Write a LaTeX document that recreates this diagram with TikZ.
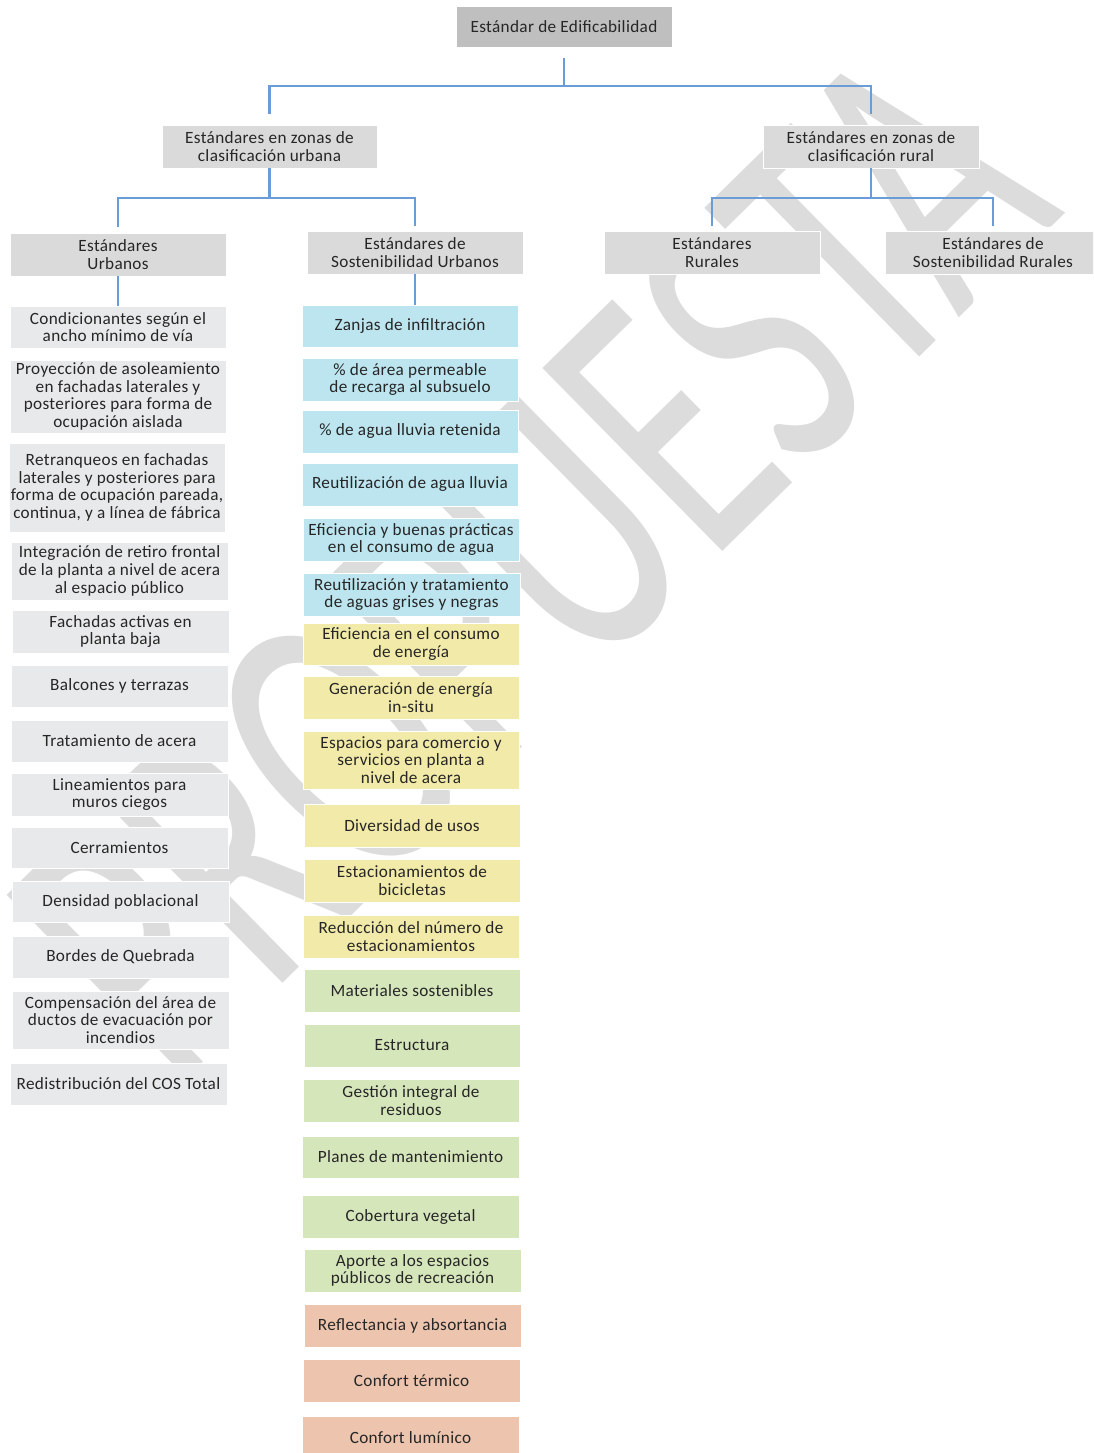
\documentclass[tikz,border=0pt]{standalone}
\usepackage{fontspec}
\setmainfont{Carlito}[LetterSpace=2.0]
\newfontfamily\wmfont{Carlito}
\usetikzlibrary{calc}
\definecolor{txt}{HTML}{262626}
\definecolor{lineblue}{HTML}{6A9DD8}
\definecolor{topgray}{HTML}{BFBFBF}
\definecolor{midgray}{HTML}{DADADA}
\definecolor{ltgray}{HTML}{E8E9EA}
\definecolor{cblue}{HTML}{BDE5EF}
\definecolor{cyellow}{HTML}{F2EAA8}
\definecolor{cgreen}{HTML}{D6E6BB}
\definecolor{csalmon}{HTML}{EDC5AE}
\definecolor{wmgray}{HTML}{DCDCDC}
\newcommand{\mkbox}[7]{\node[box,#2,minimum width={(#5-#3)*0.75pt},minimum height={(#6-#4)*0.75pt}] (#1) at ({(#3+#5)/2},{(#4+#6)/2}) {#7};}
\begin{document}
\begin{tikzpicture}[x=0.75pt,y=-0.75pt,
  box/.style={rectangle, inner sep=0pt, align=center, text=txt, draw=white, line width=0.6pt,
    font=\fontsize{12.9pt}{13.2pt}\selectfont},
  topbox/.style={fill=topgray},
  midbox/.style={fill=midgray},
  ltbox/.style={fill=ltgray},
  bluebox/.style={fill=cblue},
  yelbox/.style={fill=cyellow},
  grnbox/.style={fill=cgreen},
  salbox/.style={fill=csalmon},
  conn/.style={draw=lineblue, line width=1.6pt},
  wm/.style={anchor=base, inner sep=0pt, rotate=44.5, xscale=0.654, text=wmgray,
    font=\wmfont\fontsize{300pt}{300pt}\selectfont}]
\useasboundingbox (0,0) rectangle (1093,1453);
\clip (0,0) rectangle (1093,1453);
\fill[white] (0,0) rectangle (1093,1453);
% watermark
\node[wm] (wmark) at (620,652) {PROPUESTA};
% hierarchy
\mkbox{top}{topbox}{456}{6}{672}{47}{Estándar de Edificabilidad}
\mkbox{l2a}{midbox}{162}{125}{377}{168}{Estándares en zonas de\\clasificación urbana}
\mkbox{l2b}{midbox}{763}{125}{979}{168}{Estándares en zonas de\\clasificación rural}
\mkbox{l3a}{midbox}{10}{233}{226}{276}{Estándares\\Urbanos}
\mkbox{l3b}{midbox}{307}{231}{523}{274}{Estándares de\\Sostenibilidad Urbanos}
\mkbox{l3c}{midbox}{604}{231}{820}{274}{Estándares\\Rurales}
\mkbox{l3d}{midbox}{885}{231}{1101}{274}{Estándares de\\Sostenibilidad Rurales}
% left column
\mkbox{u1}{ltbox}{10}{306}{226}{348}{Condicionantes según el\\ancho mínimo de vía}
\mkbox{u2}{ltbox}{10}{360}{226}{433}{Proyección de asoleamiento\\en fachadas laterales y\\posteriores para forma de\\ocupación aislada}
\mkbox{u3}{ltbox}{9}{443}{225}{532}{Retranqueos en fachadas\\laterales y posteriores para\\forma de ocupación pareada,\\continua, y a línea de fábrica}
\mkbox{u4}{ltbox}{11}{542}{228}{600}{Integración de retiro frontal\\de la planta a nivel de acera\\al espacio público}
\mkbox{u5}{ltbox}{12}{610}{229}{653}{Fachadas activas en\\planta baja}
\mkbox{u6}{ltbox}{11}{665}{228}{707}{Balcones y terrazas}
\mkbox{u7}{ltbox}{11}{720}{228}{762}{Tratamiento de acera}
\mkbox{u8}{ltbox}{11}{773}{228}{816}{Lineamientos para\\muros ciegos}
\mkbox{u9}{ltbox}{11}{827}{228}{868}{Cerramientos}
\mkbox{u10}{ltbox}{12}{881}{229}{922}{Densidad poblacional}
\mkbox{u11}{ltbox}{12}{936}{229}{978}{Bordes de Quebrada}
\mkbox{u12}{ltbox}{12}{991}{229}{1049}{Compensación del área de\\ductos de evacuación por\\incendios}
\mkbox{u13}{ltbox}{10}{1063}{227}{1105}{Redistribución del COS Total}
% middle column
\mkbox{s1}{bluebox}{302}{305}{518}{347}{Zanjas de infiltración}
\mkbox{s2}{bluebox}{302}{358}{518}{401}{\% de área permeable\\de recarga al subsuelo}
\mkbox{s3}{bluebox}{302}{410}{518}{453}{\% de agua lluvia retenida}
\mkbox{s4}{bluebox}{302}{463}{518}{506}{Reutilización de agua lluvia}
\mkbox{s5}{bluebox}{303}{518}{519}{561}{Eficiencia y buenas prácticas\\en el consumo de agua}
\mkbox{s6}{bluebox}{303}{573}{520}{616}{Reutilización y tratamiento\\de aguas grises y negras}
\mkbox{s7}{yelbox}{303}{623}{519}{665}{Eficiencia en el consumo\\de energía}
\mkbox{s8}{yelbox}{303}{676}{519}{719}{Generación de energía\\in-situ}
\mkbox{s9}{yelbox}{303}{731}{519}{789}{Espacios para comercio y\\servicios en planta a\\nivel de acera}
\mkbox{s10}{yelbox}{304}{804}{520}{847}{Diversidad de usos}
\mkbox{s11}{yelbox}{304}{859}{520}{902}{Estacionamientos de\\bicicletas}
\mkbox{s12}{yelbox}{303}{915}{519}{958}{Reducción del número de\\estacionamientos}
\mkbox{s13}{grnbox}{304}{969}{520}{1012}{Materiales sostenibles}
\mkbox{s14}{grnbox}{304}{1024}{520}{1067}{Estructura}
\mkbox{s15}{grnbox}{303}{1079}{519}{1122}{Gestión integral de\\residuos}
\mkbox{s16}{grnbox}{302}{1136}{519}{1178}{Planes de mantenimiento}
\mkbox{s17}{grnbox}{302}{1195}{519}{1238}{Cobertura vegetal}
\mkbox{s18}{grnbox}{304}{1249}{521}{1292}{Aporte a los espacios\\públicos de recreación}
\mkbox{s19}{salbox}{304}{1304}{521}{1347}{Reflectancia y absortancia}
\mkbox{s20}{salbox}{303}{1359}{520}{1402}{Confort térmico}
\mkbox{s21}{salbox}{302}{1416}{519}{1459}{Confort lumínico}
% connectors
\draw[conn] ($(top.south)+(0,11)$) -- ($(top.south)+(0,39)$) coordinate (j0);
\draw[conn] (j0) -| ($(l2a.north)+(0,-11)$);
\draw[conn] (j0) -| ($(l2b.north)+(0,-11)$);
\draw[conn] (l2a.south) -- ++(0,30) coordinate (j1);
\draw[conn] (j1) -| ($(l3a.north)+(0,-6)$);
\draw[conn] (j1) -| ($(l3b.north)+(0,-5)$);
\draw[conn] (l2b.south) -- ++(0,30) coordinate (j2);
\draw[conn] (j2) -| ($(l3c.north)+(0,-5)$);
\draw[conn] (j2) -| ($(l3d.north)+(0,-5)$);
\draw[conn] (l3a.south) -- (l3a.south |- u1.north);
\draw[conn] (l3b.south) -- (l3b.south |- s1.north);
\end{tikzpicture}
\end{document}
